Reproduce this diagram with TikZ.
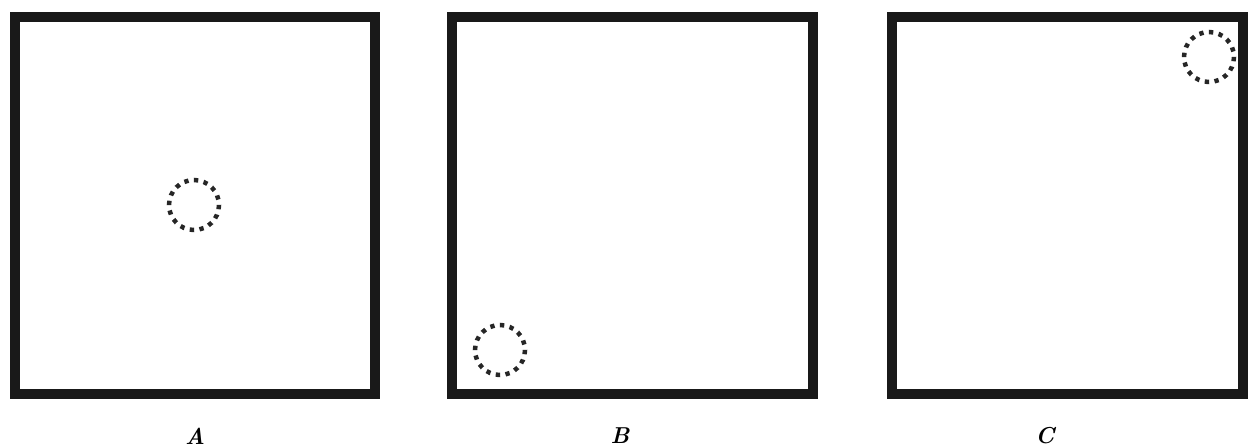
\documentclass[tikz,border=0pt]{standalone}
\usetikzlibrary{calc}
\begin{document}
\begin{tikzpicture}[x=1pt,y=-1pt,
  frame/.style={draw=black!90,line width=10pt,line join=miter},
  dotring/.style={draw=black!85,line width=4.5pt,dash pattern=on 4.3pt off 5.5pt},
  lab/.style={font=\fontsize{23}{25}\selectfont\bfseries\itshape}]
\useasboundingbox (0,0) rectangle (1251,447);
\draw[frame] (15,17) rectangle (375,394);
\draw[frame] (452,17) rectangle (813,394);
\draw[frame] (892,17) rectangle (1243,394);
\coordinate (ca) at (194,205);
\coordinate (cb) at (500,350);
\coordinate (cc) at (1209,57);
\foreach \c in {ca,cb,cc}{
  \draw[dotring] ($(\c)+(0,25)$) arc[start angle=90,end angle=450,radius=25];
}
\node[lab] (la) at (195,436) {A};
\node[lab] (lb) at (620,436) {B};
\node[lab] (lc) at (1045,436) {C};
\end{tikzpicture}
\end{document}
